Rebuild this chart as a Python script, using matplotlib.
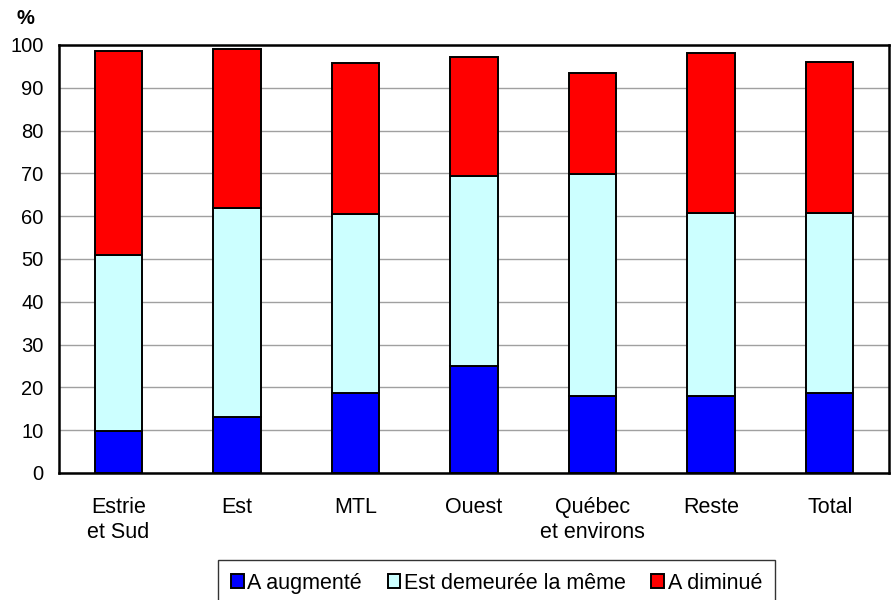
import matplotlib
matplotlib.use("Agg")
import matplotlib.pyplot as plt
import numpy as np

plt.rcParams['font.family'] = ['Liberation Sans', 'DejaVu Sans']

categories = ["Estrie\net Sud", "Est", "MTL", "Ouest", "Québec\net environs", "Reste", "Total"]
augmente = [9.9, 13.1, 18.7, 25.1, 18.1, 17.9, 18.7]
meme = [41.1, 48.7, 41.8, 44.2, 51.7, 42.8, 42.0]
diminue = [47.6, 37.2, 35.2, 27.8, 23.7, 37.5, 35.3]
series_names = ["A augmenté", "Est demeurée la même", "A diminué"]
colors = ["#0000FF", "#CCFFFF", "#FF0000"]
yticks = list(range(0, 101, 10))

fig = plt.figure(figsize=(8.91, 6.0), dpi=100)
ax = fig.add_axes([59/891, 1 - 473/600, (889-59)/891, (473-45)/600])

x = np.arange(len(categories))
w = 0.4
b1 = ax.bar(x, augmente, w, color=colors[0], edgecolor='black', linewidth=1.4, label=series_names[0], zorder=3)
b2 = ax.bar(x, meme, w, bottom=augmente, color=colors[1], edgecolor='black', linewidth=1.4, label=series_names[1], zorder=3)
bot3 = [a + b for a, b in zip(augmente, meme)]
b3 = ax.bar(x, diminue, w, bottom=bot3, color=colors[2], edgecolor='black', linewidth=1.4, label=series_names[2], zorder=3)

ax.set_xlim(-0.5, len(categories) - 0.5)
ax.set_ylim(0, 100)
ax.set_yticks(yticks)
ax.set_xticks(x)
ax.set_xticklabels(categories, fontsize=15.5, linespacing=1.25)
ax.tick_params(axis='y', length=0, labelsize=14.5, pad=11)
ax.tick_params(axis='x', length=0, pad=17)
ax.yaxis.grid(True, color='#A0A0A0', linewidth=1.0, zorder=0)
ax.set_axisbelow(True)
for s in ax.spines.values():
    s.set_linewidth(1.8)
    s.set_color('black')

fig.text(25/891, 1 - 19/600, "%", fontsize=14.5, fontweight='bold', ha='center', va='center')

leg = fig.legend(handles=[b1, b2, b3], labels=series_names, loc='upper left',
                 bbox_to_anchor=(218/891, 1 - 560/600), ncol=3, frameon=True,
                 fontsize=15.5, handlelength=0.6, handleheight=0.6, handletextpad=0.15,
                 columnspacing=1.2, borderpad=0.6, borderaxespad=0, fancybox=False)
leg.get_frame().set_edgecolor('black')
leg.get_frame().set_linewidth(1.0)

fig.savefig("out.png", dpi=100)
